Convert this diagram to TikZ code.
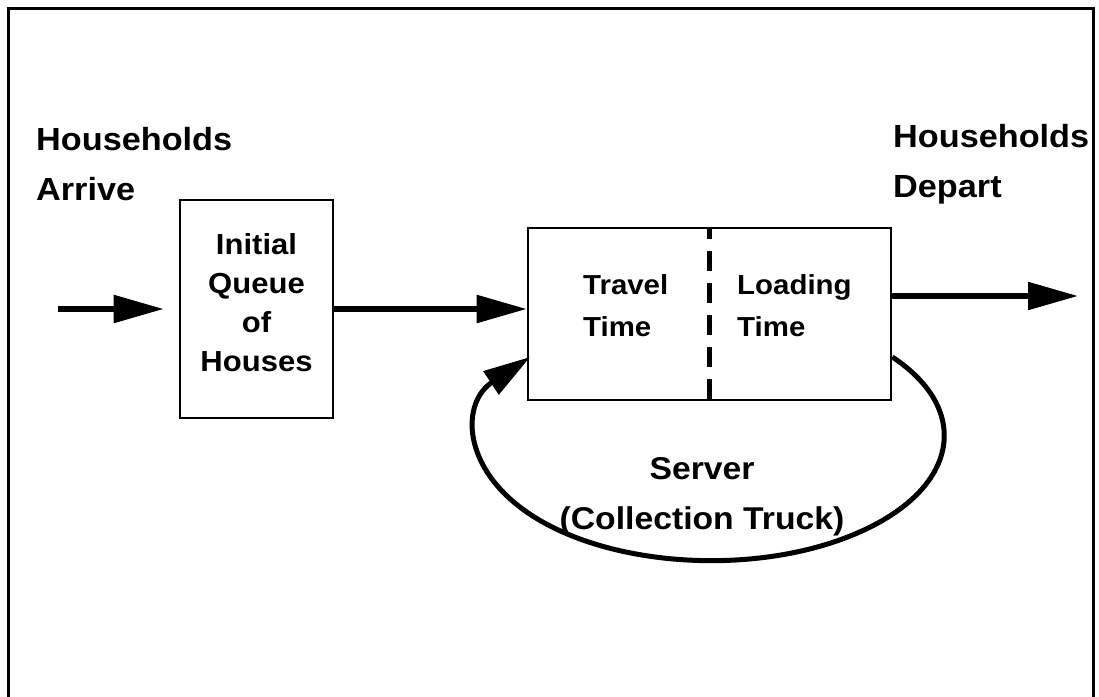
\documentclass[tikz,border=0pt]{standalone}
\usepackage{fontspec}
\setmainfont{Liberation Sans}[FakeStretch=1.07]
\usetikzlibrary{arrows.meta}

\begin{document}
\begin{tikzpicture}[x=1pt, y=-1pt,
  box/.style={draw, line width=2.6pt, inner sep=0pt},
  flow/.style={line width=5.5pt, -{Triangle[length=50pt, width=27pt]}},
  heading/.style={align=left, inner sep=0pt, font=\fontsize{32}{50}\bfseries\selectfont},
  boxtext/.style={align=left, inner sep=0pt, font=\fontsize{27.5}{42}\bfseries\selectfont},
]
\useasboundingbox (0,0) rectangle (1099,696);

% outer frame (bottom edge runs off the page)
\draw[line width=3pt] (8,700) -- (8,8) -- (1093,8) -- (1093,700);

% headings
\node[heading, anchor=west] (arrive) at (36,164) {Households\\Arrive};
\node[heading, anchor=west] (depart) at (893,164) {Households\\Depart};

% queue of houses
\node[box, minimum width=153pt, minimum height=218pt, align=center,
      font=\fontsize{29}{39}\bfseries\selectfont] (queue) at (256.5,309) {};
\node[align=center, inner sep=0pt, font=\fontsize{29}{39}\bfseries\selectfont]
  (queuetext) at (256.5,303) {Initial\\Queue\\of\\Houses};

% server: travel time | loading time
\node[box, minimum width=363pt, minimum height=172pt] (server) at (709.5,314) {};
\draw[line width=5pt, dash pattern=on 20pt off 12pt, dash phase=8pt]
  (server.north) -- (server.south);
\node[boxtext, anchor=west] (travel) at (583,306) {Travel\\Time};
\node[boxtext, anchor=west] (loading) at (737,306) {Loading\\Time};

\node[align=center, inner sep=0pt, font=\fontsize{31.5}{50}\bfseries\selectfont]
  (srvlabel) at (702,497) {Server\\(Collection Truck)};

% flow connectors
\coordinate (src) at (58,309);
\coordinate (sink) at (1078,296);
\draw[flow, shorten >=15pt] (src) -- (queue.west);
\draw[flow] (queue.east) -- (queue.east -| server.west);
\draw[flow] (server.east |- sink) -- (sink);

% truck returns to start the next trip
\draw[line width=5pt, -{Triangle[length=47pt, width=27pt]}]
  ([yshift=-43pt]server.east)
  arc[start angle=-39, end angle=219, x radius=233, y radius=125];
\end{tikzpicture}
\end{document}
